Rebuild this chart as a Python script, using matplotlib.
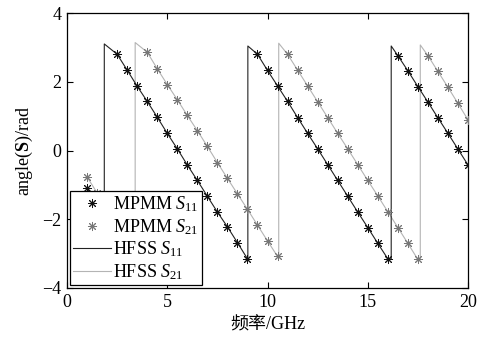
import numpy as np
import matplotlib
matplotlib.use("Agg")
from matplotlib import pyplot as plt

# fonts: Times-like serif, CJK fallback for the Chinese axis label
plt.rcParams['font.family'] = ['Liberation Serif', 'Noto Sans CJK SC']
plt.rcParams['mathtext.fontset'] = 'custom'
plt.rcParams['mathtext.rm'] = 'Liberation Serif'
plt.rcParams['mathtext.it'] = 'Liberation Serif:italic'
plt.rcParams['mathtext.bf'] = 'Liberation Serif:bold'

# MPMM samples (markers)
f_mpmm_s11 = [1.0, 1.5, 2.5, 3.0, 3.5, 4.0, 4.5, 5.0, 5.5, 6.0, 6.5, 7.0, 7.5, 8.0,
              8.5, 9.0, 9.5, 10.0, 10.5, 11.0, 11.5, 12.0, 12.5, 13.0, 13.5, 14.0,
              14.5, 15.0, 15.5, 16.0, 16.5, 17.0, 17.5, 18.0, 18.5, 19.0, 19.5, 20.0]
s11_mpmm = [-1.10, -1.60, 2.80, 2.34, 1.87, 1.43, 0.97, 0.50, 0.05, -0.42, -0.87, -1.33,
            -1.79, -2.22, -2.68, -3.15, 2.80, 2.33, 1.88, 1.43, 0.96, 0.50, 0.05, -0.41,
            -0.87, -1.33, -1.79, -2.24, -2.70, -3.15, 2.76, 2.32, 1.86, 1.41, 0.95, 0.50,
            0.04, -0.42]

f_mpmm_s21 = [1.0, 1.5, 2.0, 2.5, 3.0, 4.0, 4.5, 5.0, 5.5, 6.0, 6.5, 7.0, 7.5, 8.0,
              8.5, 9.0, 9.5, 10.0, 10.5, 11.0, 11.5, 12.0, 12.5, 13.0, 13.5, 14.0,
              14.5, 15.0, 15.5, 16.0, 16.5, 17.0, 17.5, 18.0, 18.5, 19.0, 19.5, 20.0]
s21_mpmm = [-0.77, -1.23, -1.69, -2.15, -2.61, 2.86, 2.38, 1.92, 1.48, 1.02, 0.58, 0.12,
            -0.35, -0.81, -1.26, -1.71, -2.17, -2.63, -3.08, 2.80, 2.34, 1.88, 1.42, 0.96,
            0.50, 0.05, -0.41, -0.87, -1.32, -1.78, -2.24, -2.70, -3.17, 2.76, 2.30, 1.84,
            1.37, 0.89]

f_hfss_s11 = [1.0, 1.5, 1.86, 1.86, 2.5, 3.0, 3.5, 4.0, 4.5, 5.0, 5.5, 6.0, 6.5, 7.0,
              7.5, 8.0, 8.5, 9.0, 9.02, 9.02, 9.5, 10.0, 10.5, 11.0, 11.5, 12.0, 12.5,
              13.0, 13.5, 14.0, 14.5, 15.0, 15.5, 16.0, 16.17, 16.17, 16.5, 17.0, 17.5,
              18.0, 18.5, 19.0, 19.5, 20.0]
s11_hfss = [-1.10, -1.60, -3.14, 3.10, 2.80, 2.34, 1.87, 1.43, 0.97, 0.50, 0.05, -0.42,
            -0.87, -1.33, -1.79, -2.22, -2.68, -3.15, -3.16, 3.04, 2.80, 2.33, 1.88, 1.43,
            0.96, 0.50, 0.05, -0.41, -0.87, -1.33, -1.79, -2.24, -2.70, -3.15, -3.16,
            3.04, 2.76, 2.32, 1.86, 1.41, 0.95, 0.50, 0.04, -0.42]

f_hfss_s21 = [1.0, 1.5, 2.0, 2.5, 3.0, 3.40, 3.40, 4.0, 4.5, 5.0, 5.5, 6.0, 6.5, 7.0,
              7.5, 8.0, 8.5, 9.0, 9.5, 10.0, 10.5, 10.56, 10.56, 11.0, 11.5, 12.0, 12.5,
              13.0, 13.5, 14.0, 14.5, 15.0, 15.5, 16.0, 16.5, 17.0, 17.5, 17.62, 17.62,
              18.0, 18.5, 19.0, 19.5, 20.0]
s21_hfss = [-0.77, -1.23, -1.69, -2.15, -2.61, -3.14, 3.14, 2.86, 2.38, 1.92, 1.48, 1.02,
            0.58, 0.12, -0.35, -0.81, -1.26, -1.71, -2.17, -2.63, -3.08, -3.14, 3.12,
            2.80, 2.34, 1.88, 1.42, 0.96, 0.50, 0.05, -0.41, -0.87, -1.32, -1.78, -2.24,
            -2.70, -3.17, -3.16, 3.07, 2.76, 2.30, 1.84, 1.37, 0.89]

xticks = [0, 5, 10, 15, 20]
yticks = [-4, -2, 0, 2, 4]

fig = plt.figure(figsize=(4.86, 3.40), dpi=100)
ax1 = fig.add_axes([67/486, 1 - 288/340, 401/486, 275/340])

# MATLAB-like asterisk marker
star = (8, 2, 0)
ax1.plot(f_mpmm_s11, s11_mpmm, lw=0, marker=star, ms=6.5, mew=0.7, color="#111111",
         label=r"MPMM $S_{11}$", zorder=4)
ax1.plot(f_mpmm_s21, s21_mpmm, lw=0, marker=star, ms=6.5, mew=0.7, color="#777777",
         label=r"MPMM $S_{21}$", zorder=3)
ax1.plot(f_hfss_s11, s11_hfss, lw=0.8, color="#222222", label=r"HFSS $S_{11}$", zorder=2)
ax1.plot(f_hfss_s21, s21_hfss, lw=0.8, color="#b4b4b4", label=r"HFSS $S_{21}$", zorder=1)

ax1.set_xlim(0, 20)
ax1.set_ylim(-4, 4)
ax1.set_xticks(xticks)
ax1.set_yticks(yticks)
ax1.set_yticklabels(["\u22124", "\u22122", "0", "2", "4"])
ax1.tick_params(direction="in", top=True, right=True, length=4, width=0.8,
                labelsize=13, pad=4)
for s in ax1.spines.values():
    s.set_linewidth(0.9)

ax1.set_xlabel("频率/GHz", fontsize=13, labelpad=4)
ax1.set_ylabel(r"angle($\mathbf{S}$)/rad", fontsize=13, labelpad=5)

leg = ax1.legend(loc="lower left", fontsize=13, frameon=True, fancybox=False,
                 edgecolor="black", framealpha=1, borderaxespad=0.15,
                 handlelength=2.1, handletextpad=0.1, labelspacing=0.15,
                 borderpad=0.2)
leg.get_frame().set_linewidth(0.9)

plt.savefig("out.png", dpi=100)
